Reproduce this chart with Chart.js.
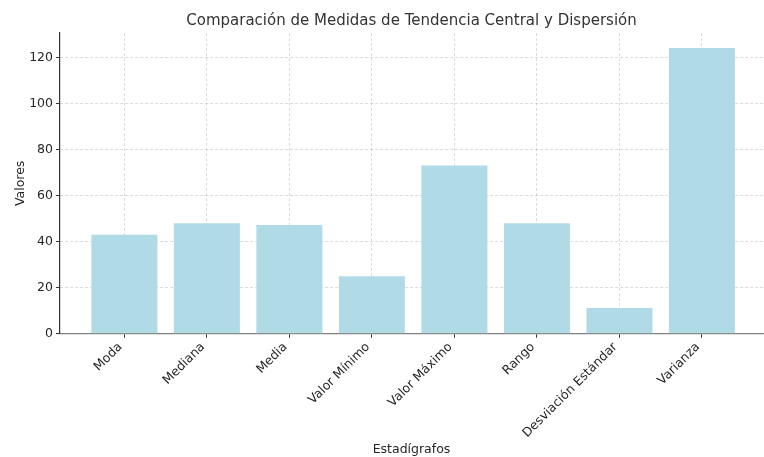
<!DOCTYPE html>
<html><head><meta charset="utf-8">
<script src="https://cdn.jsdelivr.net/npm/chart.js@4.4.0/dist/chart.umd.min.js"></script>
<style>html,body{margin:0;padding:0;background:#fff}#wrap{width:764px;height:457px}</style>
</head><body><div id="wrap"><canvas id="c" width="764" height="457"></canvas></div>
<script>
const categories = ["Moda","Mediana","Media","Valor Mínimo","Valor Máximo","Rango","Desviación Estándar","Varianza"];
const values = [43, 48, 47.2, 25, 73, 48, 11.14, 124.1];
const yTicks = [0,20,40,60,80,100,120];
const chartTitle = "Comparación de Medidas de Tendencia Central y Dispersión";
const xTitle = "Estadígrafos";
const yTitle = "Valores";

const FONT = "'DejaVu Sans', sans-serif";
Chart.defaults.font.family = FONT;
Chart.defaults.color = '#262626';

new Chart(document.getElementById('c'), {
  type: 'bar',
  data: {
    datasets: [{
      data: values.map((v,i)=>({x:i,y:v})),
      backgroundColor: 'rgba(173,216,230,0.95)',
      borderWidth: 0,
      barPercentage: 0.8,
      categoryPercentage: 1.0
    }]
  },
  options: {
    responsive: false,
    animation: false,
    layout: { padding: { left: 0, right: 1, top: 0, bottom: 0 } },
    plugins: {
      legend: { display: false },
      tooltip: { enabled: false },
      title: {
        display: true, text: chartTitle, color: '#333', fullSize: false,
        font: { family: FONT, size: 15, weight: 'normal' },
        padding: { top: 12, bottom: 3 }
      }
    },
    scales: {
      x: {
        type: 'linear', min: -0.78, max: 7.74, offset: false, z: 1,
        afterBuildTicks: s => { s.ticks = categories.map((_,i)=>({value:i})); },
        afterFit: s => { s.height = 123.3; },
        ticks: {
          autoSkip: false, minRotation: 45, maxRotation: 45, padding: 2, labelOffset: -4,
          font: { family: FONT, size: 12.5 }, color: '#262626',
          callback: v => categories[v]
        },
        grid: { offset: false, color: 'rgba(0,0,0,0.18)', lineWidth: 0.8, tickLength: 4, tickColor: '#333', tickWidth: 1 },
        border: { color: '#808080', width: 1.3, dash: [3,2], display: true },
        title: { display: true, text: xTitle, font: { family: FONT, size: 12.5 }, color: '#262626', padding: { top: 0, bottom: 0 } }
      },
      y: {
        min: 0, max: 130.6, z: 1,
        afterBuildTicks: s => { s.ticks = yTicks.map(v=>({value:v})); },
        afterFit: s => { s.width = 60; },
        ticks: { font: { family: FONT, size: 12.5 }, color: '#262626', padding: 3 },
        grid: { color: 'rgba(0,0,0,0.18)', lineWidth: 0.8, tickLength: 4, tickColor: '#333', tickWidth: 1 },
        border: { color: '#333', width: 1.2, dash: [3,2] },
        title: { display: true, text: yTitle, font: { family: FONT, size: 12.5 }, color: '#262626', padding: { top: 13, bottom: 0 } }
      }
    }
  }
});
</script></body></html>
